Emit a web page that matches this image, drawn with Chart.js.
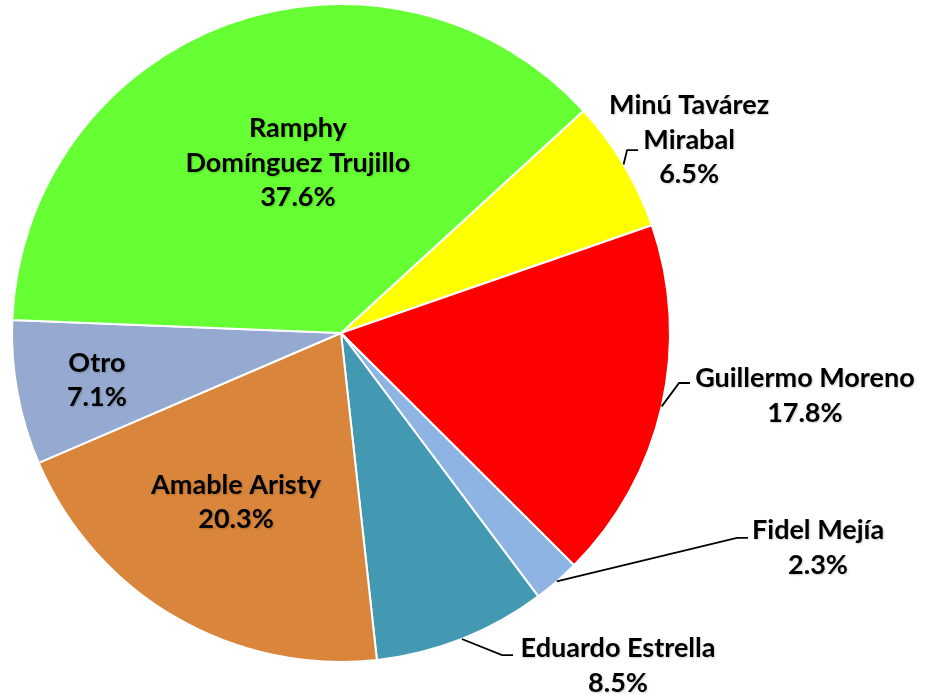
<!DOCTYPE html>
<html>
<head>
<meta charset="utf-8">
<script src="https://cdn.jsdelivr.net/npm/chart.js@4.4.1/dist/chart.umd.min.js"></script>
<style>
  html, body { margin: 0; padding: 0; background: #fff; }
  #wrap { width: 926px; height: 697px; }
</style>
</head>
<body>
<div id="wrap"><canvas id="pie" width="926" height="697"></canvas></div>
<script>
  const candidates = ["Minú Tavárez Mirabal", "Guillermo Moreno", "Fidel Mejía", "Eduardo Estrella", "Amable Aristy", "Otro", "Ramphy Domínguez Trujillo"];
  const shares = [6.5, 17.8, 2.3, 8.5, 20.3, 7.1, 37.6];
  const sliceColors = ["#ffff00", "#ff0000", "#8eb4e3", "#4399b2", "#d9853b", "#95a9d1", "#66ff33"];

  // label text lines and where they sit (in pie-radius units from the centre)
  const labelLines = [
    ["Minú Tavárez", "Mirabal", "6.5%"],
    ["Guillermo Moreno", "17.8%"],
    ["Fidel Mejía", "2.3%"],
    ["Eduardo Estrella", "8.5%"],
    ["Amable Aristy", "20.3%"],
    ["Otro", "7.1%"],
    ["Ramphy", "Domínguez Trujillo", "37.6%"]
  ];
  const labelSpots = [[1.058, -0.587], [1.410, 0.191], [1.450, 0.653], [0.842, 1.012], [-0.319, 0.514], [-0.742, 0.143], [-0.131, -0.517]];
  const leaderEnds = [[0.903, -0.556], [1.061, 0.152], [1.237, 0.623], [0.523, 0.979], null, null, null];

  const pieLabels = {
    id: "pieLabels",
    afterDatasetsDraw(chart) {
      const { ctx } = chart;
      const arcs = chart.getDatasetMeta(0).data;
      ctx.save();
      arcs.forEach((arc, i) => {
        const { x, y, outerRadius: r, startAngle, endAngle } = arc.getProps(["x", "y", "outerRadius", "startAngle", "endAngle"], true);
        const end = leaderEnds[i];
        if (end) {
          const mid = (startAngle + endAngle) / 2;
          const ex = x + end[0] * r;
          const ey = y + end[1] * r;
          ctx.beginPath();
          ctx.moveTo(x + Math.cos(mid) * r, y + Math.sin(mid) * r);
          ctx.lineTo(ex - 11, ey);
          ctx.lineTo(ex, ey);
          ctx.strokeStyle = "#000";
          ctx.lineWidth = 1.8;
          ctx.stroke();
        }
        const lines = labelLines[i];
        const cx = x + labelSpots[i][0] * r;
        const cy = y + labelSpots[i][1] * r;
        const lh = 34.5;
        ctx.font = "bold 27px Lato, 'Liberation Sans', sans-serif";
        ctx.textAlign = "center";
        ctx.textBaseline = "middle";
        ctx.fillStyle = "#000";
        ctx.shadowColor = "rgba(0,0,0,0.2)";
        ctx.shadowOffsetX = 1;
        ctx.shadowOffsetY = 1;
        ctx.shadowBlur = 2;
        lines.forEach((t, k) => {
          ctx.fillText(t, cx, cy + (k - (lines.length - 1) / 2) * lh);
        });
        ctx.shadowColor = "transparent";
      });
      ctx.restore();
    }
  };

  new Chart(document.getElementById("pie"), {
    type: "pie",
    data: {
      labels: candidates,
      datasets: [{
        data: shares,
        backgroundColor: sliceColors,
        borderColor: "#ffffff",
        borderWidth: 2
      }]
    },
    options: {
      responsive: false,
      animation: false,
      rotation: 47.5,
      layout: { padding: { left: 11, top: 3, right: 255, bottom: 34 } },
      plugins: { legend: { display: false }, tooltip: { enabled: false } }
    },
    plugins: [pieLabels]
  });
</script>
</body>
</html>
